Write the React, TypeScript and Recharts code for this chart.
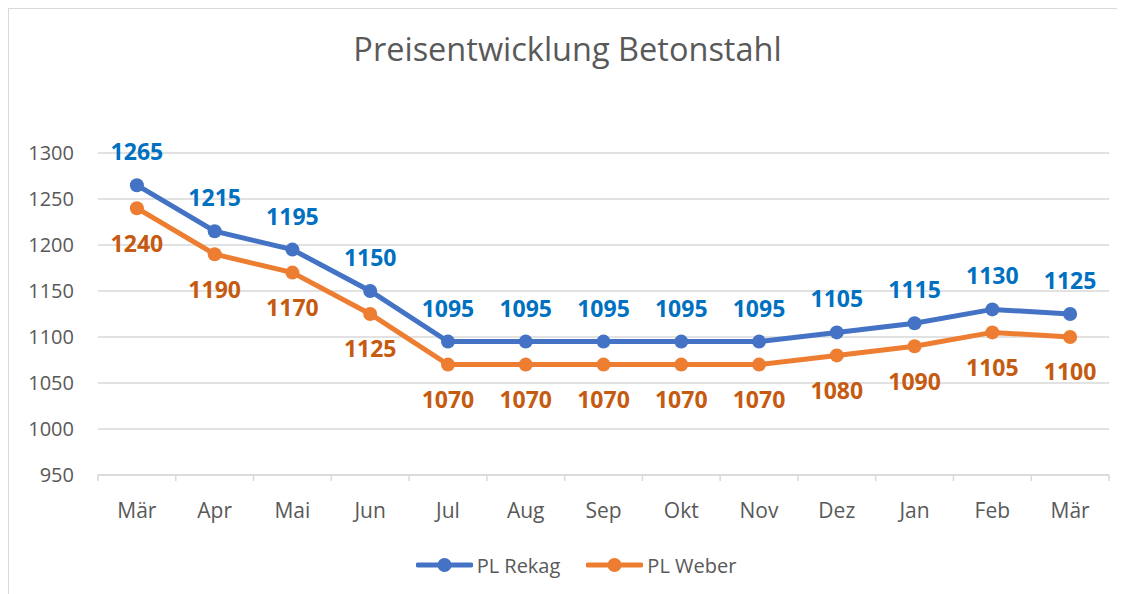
import React from 'react';
import { LineChart, Line, XAxis, YAxis, CartesianGrid, Legend, LabelList } from 'recharts';

const months = ['Mär', 'Apr', 'Mai', 'Jun', 'Jul', 'Aug', 'Sep', 'Okt', 'Nov', 'Dez', 'Jan', 'Feb', 'Mär'];
const rekag = [1265, 1215, 1195, 1150, 1095, 1095, 1095, 1095, 1095, 1105, 1115, 1130, 1125];
const weber = [1240, 1190, 1170, 1125, 1070, 1070, 1070, 1070, 1070, 1080, 1090, 1105, 1100];
const yTicks = [950, 1000, 1050, 1100, 1150, 1200, 1250, 1300];

const data = months.map((month, i) => ({ month, rekag: rekag[i], weber: weber[i] }));

const FONT = "'Open Sans', sans-serif";
const GRAY = '#595959';
const GRID = '#d9d9d9';
const BLUE = '#4472C4';
const ORANGE = '#ED7D31';

const W = 1117;
const H = 585;
const MARGIN = { top: 144, right: 17, left: 0, bottom: 14 };
const Y_WIDTH = 89;
const bandWidth = (W - MARGIN.left - MARGIN.right - Y_WIDTH) / months.length;

const MonthTick = (props: any) => {
    const { x, y, payload, index } = props;
    return (
        <g>
            <line x1={x - bandWidth / 2} y1={y} x2={x - bandWidth / 2} y2={y + 6} stroke={GRID} strokeWidth={1.5} />
            {index === months.length - 1 && (
                <line x1={x + bandWidth / 2} y1={y} x2={x + bandWidth / 2} y2={y + 6} stroke={GRID} strokeWidth={1.5} />
            )}
            <text x={x} y={y + 43} textAnchor='middle' fill={GRAY} fontSize={21} fontFamily={FONT}>
                {payload.value}
            </text>
        </g>
    );
};

const LegendContent = () => {
    const items = [
        { name: 'PL Rekag', color: BLUE },
        { name: 'PL Weber', color: ORANGE },
    ];
    return (
        <div style={{ display: 'flex', justifyContent: 'center', alignItems: 'center', height: 30, paddingLeft: 34 }}>
            {items.map((it, i) => (
                <div key={it.name} style={{ display: 'flex', alignItems: 'center', marginLeft: i ? 26 : 0 }}>
                    <svg width={57} height={16}>
                        <line x1={2} y1={8} x2={55} y2={8} stroke={it.color} strokeWidth={5} strokeLinecap='round' />
                        <circle cx={28.5} cy={8} r={7} fill={it.color} />
                    </svg>
                    <span style={{ fontFamily: FONT, fontSize: 20, color: GRAY, marginLeft: 4 }}>{it.name}</span>
                </div>
            ))}
        </div>
    );
};

export default function App() {
    return (
        <div style={{ borderLeft: `1px solid ${GRID}`, borderTop: `1px solid ${GRID}`, width: W + 40, height: H + 20, position: 'relative', background: '#fff', boxSizing: 'border-box' }}>
            <div style={{ position: 'absolute', left: 0, top: 17, width: W, textAlign: 'center', fontFamily: FONT, fontSize: 32.5, color: GRAY, lineHeight: 'normal' }}>
                Preisentwicklung Betonstahl
            </div>
            <LineChart width={W} height={H} data={data} margin={MARGIN}>
                <CartesianGrid vertical={false} stroke={GRID} strokeWidth={1.5} />
                <XAxis
                    dataKey='month'
                    padding={{ left: bandWidth / 2, right: bandWidth / 2 }}
                    height={75}
                    tick={<MonthTick />}
                    tickLine={false}
                    tickSize={0}
                    tickMargin={0}
                    axisLine={{ stroke: GRID, strokeWidth: 1.5 }}
                    interval={0}
                />
                <YAxis
                    width={Y_WIDTH}
                    domain={[950, 1300]}
                    ticks={yTicks}
                    axisLine={false}
                    tickLine={false}
                    tickSize={0}
                    tickMargin={24}
                    tick={{ fill: GRAY, fontSize: 20, fontFamily: FONT }}
                />
                <Legend verticalAlign='bottom' content={<LegendContent />} />
                <Line
                    dataKey='rekag'
                    name='PL Rekag'
                    stroke={BLUE}
                    strokeWidth={5}
                    dot={{ r: 7, fill: BLUE, stroke: 'none' }}
                    activeDot={false}
                    isAnimationActive={false}
                >
                    <LabelList dataKey='rekag' position='top' offset={25} fill='#0070C0' fontSize={23} fontWeight='bold' fontFamily={FONT} />
                </Line>
                <Line
                    dataKey='weber'
                    name='PL Weber'
                    stroke={ORANGE}
                    strokeWidth={5}
                    dot={{ r: 7, fill: ORANGE, stroke: 'none' }}
                    activeDot={false}
                    isAnimationActive={false}
                >
                    <LabelList dataKey='weber' position='bottom' offset={27} fill='#C55A11' fontSize={23} fontWeight='bold' fontFamily={FONT} />
                </Line>
            </LineChart>
        </div>
    );
}
